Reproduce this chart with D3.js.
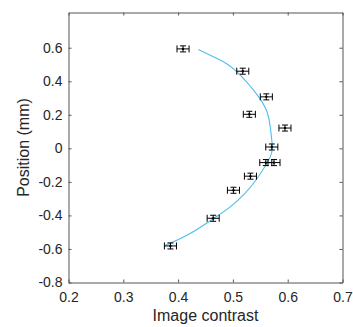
<!DOCTYPE html>
<html>
<head>
<meta charset="utf-8">
<script src="https://cdn.jsdelivr.net/npm/d3@7"></script>
<style>
  body { margin: 0; background: #fff; }
  text { font-family: "Liberation Sans", Arial, sans-serif; fill: #262626; }
</style>
</head>
<body>
<div id="chart"></div>
<script>
// measured points
var contrast = [0.409, 0.518, 0.561, 0.530, 0.595, 0.571, 0.560, 0.575, 0.532, 0.501, 0.464, 0.386];
var position = [0.593, 0.460, 0.307, 0.203, 0.121, 0.008, -0.085, -0.085, -0.166, -0.250, -0.417, -0.582];
var contrastErr = [0.011, 0.011, 0.011, 0.011, 0.011, 0.011, 0.011, 0.011, 0.011, 0.011, 0.011, 0.011];
var positionErr = [0.018, 0.018, 0.018, 0.018, 0.018, 0.018, 0.018, 0.018, 0.018, 0.018, 0.018, 0.018];

// fitted curve
var fitPosition = [0.589, 0.536, 0.466, 0.307, 0.187, 0.048, -0.051, -0.180, -0.269, -0.349, -0.418, -0.508, -0.580];
var fitContrast = [0.437, 0.471, 0.504, 0.547, 0.565, 0.571, 0.568, 0.544, 0.522, 0.495, 0.465, 0.422, 0.376];

var xTicks = [0.2, 0.3, 0.4, 0.5, 0.6, 0.7];
var yTicks = [-0.8, -0.6, -0.4, -0.2, 0, 0.2, 0.4, 0.6];

var W = 353, H = 327;
var mLeft = 68.5, mTop = 12.5, w = 274, h = 270;

var svg = d3.select("#chart")
  .append("svg")
    .attr("width", W)
    .attr("height", H);

var x = d3.scaleLinear().domain([0.2, 0.7]).range([mLeft, mLeft + w]);
var y = d3.scaleLinear().domain([-0.8, 0.81]).range([mTop + h, mTop]);

var fmt = function(d) { return d === 0 ? "0" : String(+d.toFixed(1)); };

// axes (ticks inward, box on)
var gx = svg.append("g")
    .attr("transform", "translate(0," + (mTop + h) + ")")
    .call(d3.axisBottom(x).tickValues(xTicks).tickFormat(fmt).tickSizeInner(-3).tickSizeOuter(0).tickPadding(10));
var gy = svg.append("g")
    .attr("transform", "translate(" + mLeft + ",0)")
    .call(d3.axisLeft(y).tickValues(yTicks).tickFormat(fmt).tickSizeInner(-3).tickSizeOuter(0).tickPadding(6));
var gt = svg.append("g")
    .attr("transform", "translate(0," + mTop + ")")
    .call(d3.axisTop(x).tickValues(xTicks).tickFormat("").tickSizeInner(-3).tickSizeOuter(0));
var gr = svg.append("g")
    .attr("transform", "translate(" + (mLeft + w) + ",0)")
    .call(d3.axisRight(y).tickValues(yTicks).tickFormat("").tickSizeInner(-3).tickSizeOuter(0));

[gx, gy, gt, gr].forEach(function(g) {
  g.select(".domain").attr("stroke", "#555");
  g.selectAll(".tick line").attr("stroke", "#555");
  g.selectAll(".tick text")
    .attr("fill", "#262626")
    .style("font-family", '"Liberation Sans", Arial, sans-serif')
    .style("font-size", "14px");
});

// axis labels
svg.append("text")
    .attr("x", mLeft + w / 2)
    .attr("y", 321)
    .attr("text-anchor", "middle")
    .style("font-size", "16px")
    .text("Image contrast");

svg.append("text")
    .attr("transform", "translate(29," + (mTop + h / 2) + ") rotate(-90)")
    .attr("text-anchor", "middle")
    .style("font-size", "16px")
    .text("Position (mm)");

// fitted curve
var fit = fitContrast.map(function(c, i) { return [c, fitPosition[i]]; });
svg.append("path")
    .datum(fit)
    .attr("fill", "none")
    .attr("stroke", "#4DBEEE")
    .attr("stroke-width", 1.1)
    .attr("d", d3.line()
      .x(function(d) { return x(d[0]); })
      .y(function(d) { return y(d[1]); })
      .curve(d3.curveNatural));

// error bars
var pts = contrast.map(function(c, i) {
  return { x: c, y: position[i], ex: contrastErr[i], ey: positionErr[i] };
});
var capH = 3.5, capV = 3;

var eb = svg.selectAll("g.eb")
  .data(pts)
  .enter().append("g")
    .attr("class", "eb")
    .attr("stroke", "#000")
    .attr("stroke-width", 1)
    .attr("fill", "none");

// horizontal bar
eb.append("line")
    .attr("x1", function(d) { return x(d.x - d.ex); })
    .attr("x2", function(d) { return x(d.x + d.ex); })
    .attr("y1", function(d) { return y(d.y); })
    .attr("y2", function(d) { return y(d.y); });
eb.append("line")
    .attr("x1", function(d) { return x(d.x - d.ex); })
    .attr("x2", function(d) { return x(d.x - d.ex); })
    .attr("y1", function(d) { return y(d.y) - capH; })
    .attr("y2", function(d) { return y(d.y) + capH; });
eb.append("line")
    .attr("x1", function(d) { return x(d.x + d.ex); })
    .attr("x2", function(d) { return x(d.x + d.ex); })
    .attr("y1", function(d) { return y(d.y) - capH; })
    .attr("y2", function(d) { return y(d.y) + capH; });

// vertical bar
eb.append("line")
    .attr("x1", function(d) { return x(d.x); })
    .attr("x2", function(d) { return x(d.x); })
    .attr("y1", function(d) { return y(d.y - d.ey); })
    .attr("y2", function(d) { return y(d.y + d.ey); });
eb.append("line")
    .attr("x1", function(d) { return x(d.x) - capV; })
    .attr("x2", function(d) { return x(d.x) + capV; })
    .attr("y1", function(d) { return y(d.y - d.ey); })
    .attr("y2", function(d) { return y(d.y - d.ey); });
eb.append("line")
    .attr("x1", function(d) { return x(d.x) - capV; })
    .attr("x2", function(d) { return x(d.x) + capV; })
    .attr("y1", function(d) { return y(d.y + d.ey); })
    .attr("y2", function(d) { return y(d.y + d.ey); });

// centre dot
eb.append("circle")
    .attr("cx", function(d) { return x(d.x); })
    .attr("cy", function(d) { return y(d.y); })
    .attr("r", 1.2)
    .attr("fill", "#000")
    .attr("stroke", "none");
</script>
</body>
</html>
